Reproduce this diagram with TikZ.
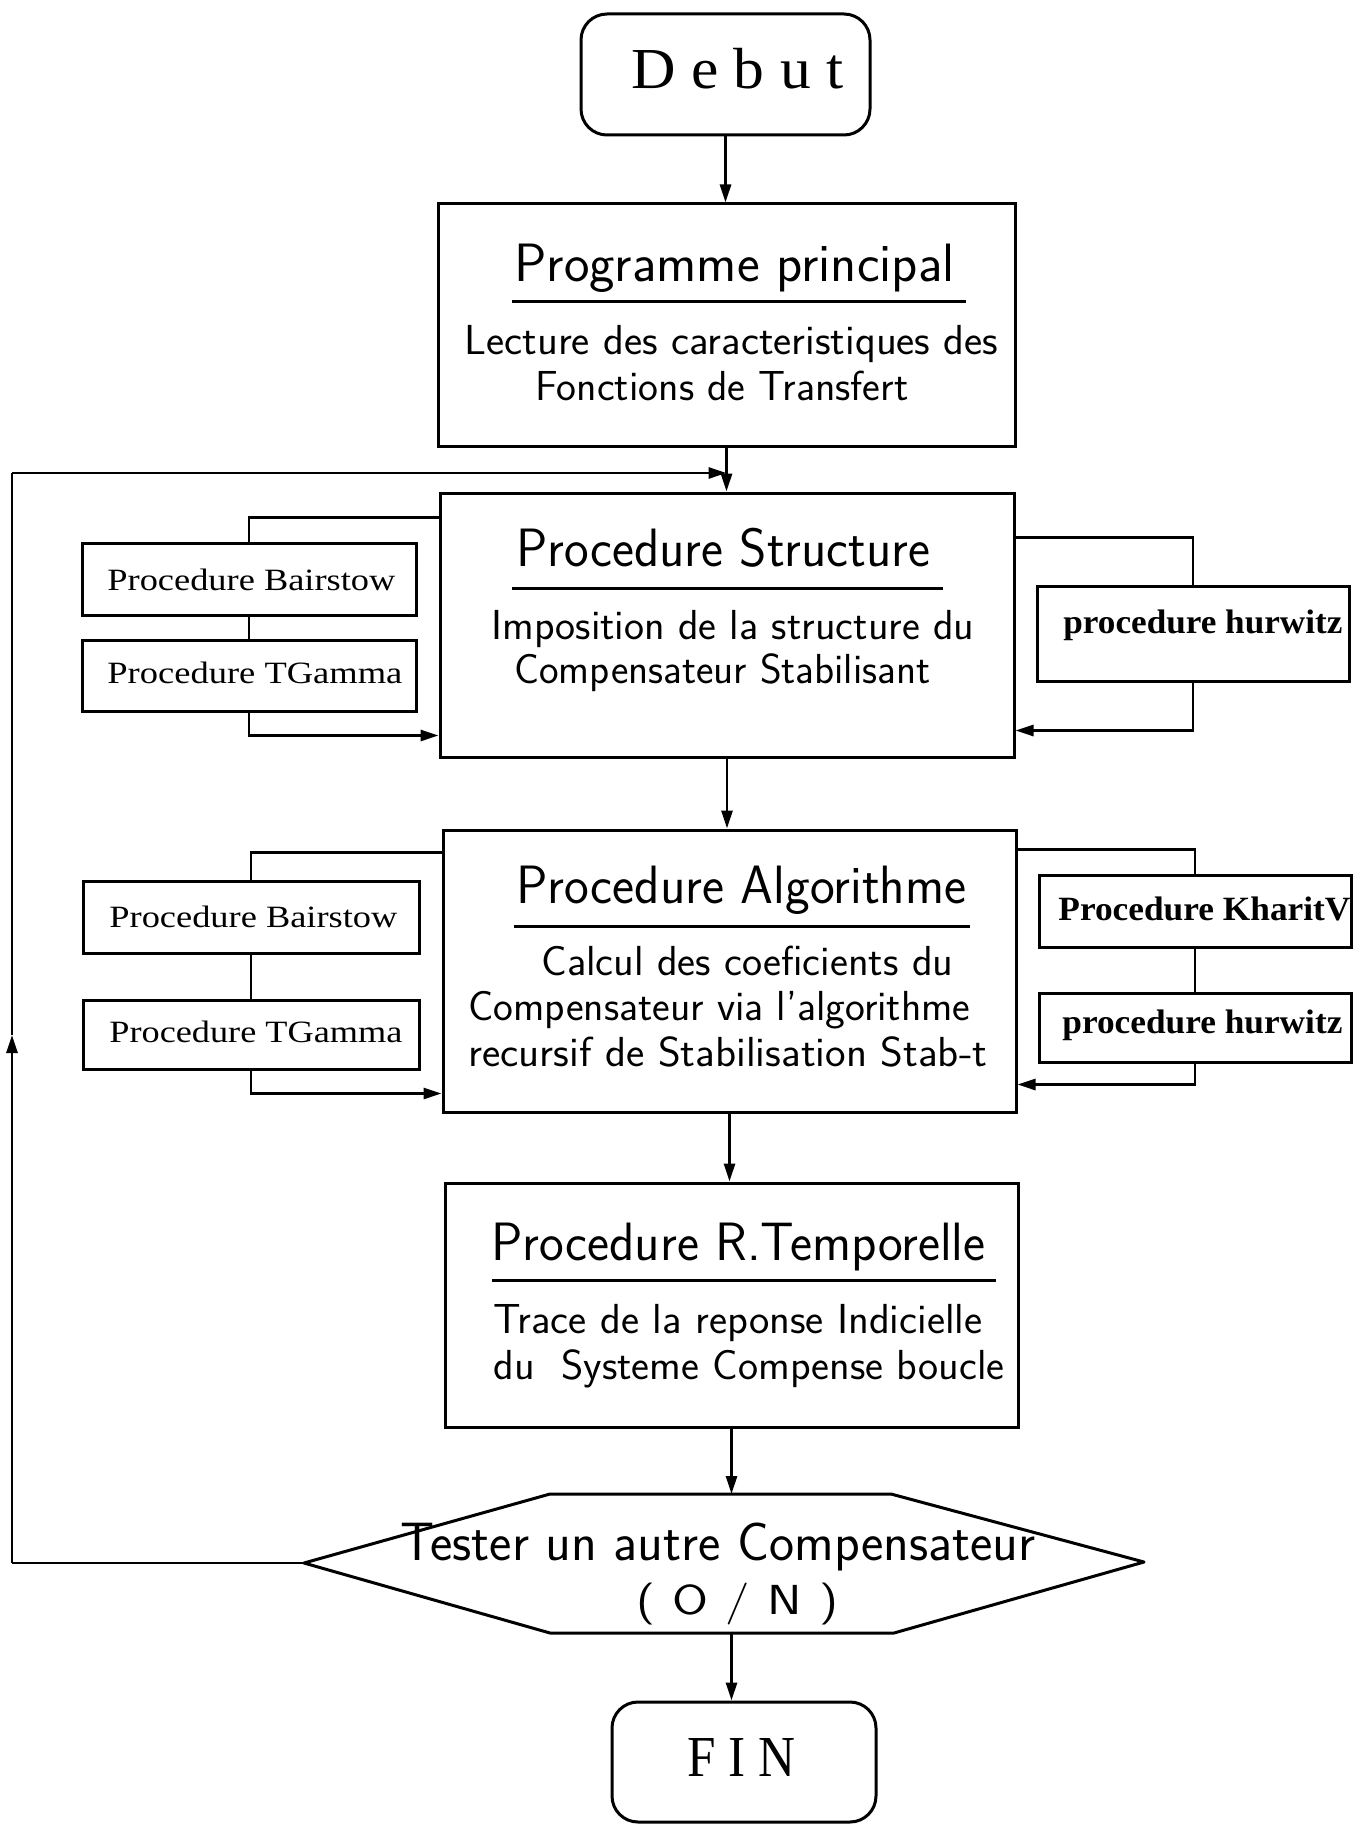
\documentclass[tikz,border=0pt]{standalone}
\usepackage{fontspec}
\usepackage{graphicx}
\newfontfamily\pserif{Liberation Serif}
\usetikzlibrary{arrows.meta,calc}
\newcommand\tx[2]{\resizebox{#1}{\height}{#2}}
\tikzset{
  x=0.5pt, y=-0.5pt,
  mainbox/.style={draw, line width=1.5pt, inner sep=0pt},
  subbox/.style={draw, line width=1.5pt, inner sep=0pt},
  term/.style={draw, line width=1.5pt, rounded corners=13pt, inner sep=0pt},
  conn/.style={line width=1.4pt},
  arr/.style={conn, -{Triangle[length=9pt,width=5.5pt]}},
  uline/.style={line width=1.5pt},
  ttl/.style={anchor=base west, inner sep=0pt, font=\sffamily\fontsize{27}{30}\selectfont},
  body/.style={anchor=base west, inner sep=0pt, font=\sffamily\fontsize{21}{24}\selectfont},
  lsub/.style={anchor=base west, inner sep=0pt, font=\pserif\fontsize{15.5}{18}\selectfont},
  rsub/.style={anchor=base west, inner sep=0pt, font=\pserif\bfseries\fontsize{17}{20}\selectfont},
  termtxt/.style={anchor=base west, inner sep=0pt, font=\pserif\fontsize{29}{32}\selectfont},
}
\begin{document}
\begin{tikzpicture}
\fill[white] (0,0) rectangle (1363,1824);
\useasboundingbox (0,0) rectangle (1363,1824);

% terminals and main boxes
\node[term, minimum width=144.5pt, minimum height=60.5pt] (debut) at (725.5,74.5) {};
\node[termtxt] (debutT) at (631,89) {\tx{106pt}{D e b u t}};

\node[mainbox, minimum width=288.5pt, minimum height=121pt] (prog) at (726.5,325) {};
\node[ttl] (progT) at (514,282) {\tx{220pt}{Programme principal}};
\draw[uline] (512,302) -- (966,302);
\node[body] (progA) at (464,354) {\tx{267pt}{Lecture des caracteristiques des}};
\node[body] (progB) at (535,400) {\tx{186.5pt}{Fonctions de Transfert}};

\node[mainbox, minimum width=287pt, minimum height=132pt] (struct) at (727,625) {};
\node[ttl] (structT) at (516,566) {\tx{207pt}{Procedure Structure}};
\draw[uline] (512,588) -- (943,588);
\node[body] (structA) at (491,639) {\tx{241.5pt}{Imposition de la structure du}};
\node[body] (structB) at (514,683) {\tx{208pt}{Compensateur Stabilisant}};

\node[mainbox, minimum width=286.5pt, minimum height=141pt] (algo) at (729.5,971) {};
\node[ttl] (algoT) at (516,903) {\tx{225pt}{Procedure Algorithme}};
\draw[uline] (514,926) -- (970,926);
\node[body] (algoA) at (541,975) {\tx{206pt}{Calcul des coeficients du}};
\node[body] (algoB) at (468,1020) {\tx{251pt}{Compensateur via l'algorithme}};
\node[body] (algoC) at (468,1066) {\tx{259.5pt}{recursif de Stabilisation Stab-t}};

\node[mainbox, minimum width=286.5pt, minimum height=122pt] (rt) at (731.5,1305) {};
\node[ttl] (rtT) at (491,1260) {\tx{247pt}{Procedure R.Temporelle}};
\draw[uline] (492,1280) -- (996,1280);
\node[body] (rtA) at (493,1333) {\tx{244.5pt}{Trace de la reponse Indicielle}};
\node[body] (rtB) at (493,1379) {\tx{255.5pt}{du~~Systeme Compense boucle}};

% decision hexagon
\coordinate (hexL) at (304,1563);
\coordinate (hexTL) at (550,1494);
\coordinate (hexTR) at (891,1494);
\coordinate (hexR) at (1144,1562);
\coordinate (hexBR) at (894,1633);
\coordinate (hexBL) at (550,1633);
\draw[line width=1.5pt, line join=round] (hexL) -- (hexTL) -- (hexTR) -- (hexR) -- (hexBR) -- (hexBL) -- cycle;
\node[ttl] (hexA) at (400,1560) {\tx{317.5pt}{Tester un autre Compensateur}};
\node[body] (hexB) at (636,1614) {\tx{101pt}{(\,\,O\,\,/\,\,N\,\,)}};

\node[term, minimum width=132pt, minimum height=60pt] (fin) at (744,1762) {};
\node[termtxt] (finT) at (687,1776) {\tx{54pt}{F I N}};

% side boxes, Structure level
\node[subbox, minimum width=167pt, minimum height=36pt] (b1) at (249,579) {};
\node[lsub] (b1T) at (107,590) {\tx{144pt}{Procedure Bairstow}};
\node[subbox, minimum width=167pt, minimum height=35.5pt] (g1) at (249,675.5) {};
\node[lsub] (g1T) at (107,683) {\tx{147.5pt}{Procedure TGamma}};
\node[subbox, minimum width=156pt, minimum height=47.5pt] (h1) at (1193,633.5) {};
\node[rsub] (h1T) at (1063,633) {\tx{139.5pt}{procedure hurwitz}};

% side boxes, Algorithme level
\node[subbox, minimum width=168pt, minimum height=36pt] (b2) at (251,917) {};
\node[lsub] (b2T) at (109,927) {\tx{144pt}{Procedure Bairstow}};
\node[subbox, minimum width=168pt, minimum height=34.5pt] (g2) at (251,1034.5) {};
\node[lsub] (g2T) at (109,1042) {\tx{146.5pt}{Procedure TGamma}};
\node[subbox, minimum width=156pt, minimum height=36pt] (k2) at (1195,911) {};
\node[rsub] (k2T) at (1058,920) {\tx{146pt}{Procedure KharitV}};
\node[subbox, minimum width=156pt, minimum height=34.5pt] (h2) at (1195,1027.5) {};
\node[rsub] (h2T) at (1062,1033) {\tx{140pt}{procedure hurwitz}};

% main flow
\draw[arr] (debut.south) -- (debut.south |- prog.north);
\draw[arr] (prog.south) -- (prog.south |- struct.north);
\draw[arr] (struct.south) -- (struct.south |- algo.north);
\draw[arr] (algo.south) -- (algo.south |- rt.north);
\draw[arr] (rt.south) -- (rt.south |- hexTL);
\draw[arr] (rt.south |- hexBL) -- (rt.south |- fin.north);

% Structure side loops
\draw[conn] ($(struct.north west)+(0,26)$) -| (b1.north);
\draw[conn] (b1.south) -- (g1.north);
\draw[arr] (g1.south) |- ($(struct.south west)+(0,-23)$);
\draw[conn] ($(struct.north east)+(0,46)$) -| (h1.north);
\draw[arr] (h1.south) |- ($(struct.south east)+(0,-28)$);

% Algorithme side loops
\draw[conn] ($(algo.north west)+(0,24)$) -| (b2.north);
\draw[conn] (b2.south) -- (g2.north);
\draw[arr] (g2.south) |- ($(algo.south west)+(0,-20)$);
\draw[conn] ($(algo.north east)+(0,21)$) -| (k2.north);
\draw[conn] (k2.south) -- (h2.north);
\draw[arr] (h2.south) |- ($(algo.south east)+(0,-29)$);

% return loop
\coordinate (lbl) at (12,1563);
\coordinate (lmid) at (12,1035);
\coordinate (ltl) at (12,473);
\coordinate (lend) at (prog.south |- ltl);
\draw[conn] (hexL) -- (lbl);
\draw[arr] (lbl) -- (lmid);
\draw[conn] (lmid) -- (ltl);
\draw[arr] (ltl) -- (lend);
\end{tikzpicture}
\end{document}
